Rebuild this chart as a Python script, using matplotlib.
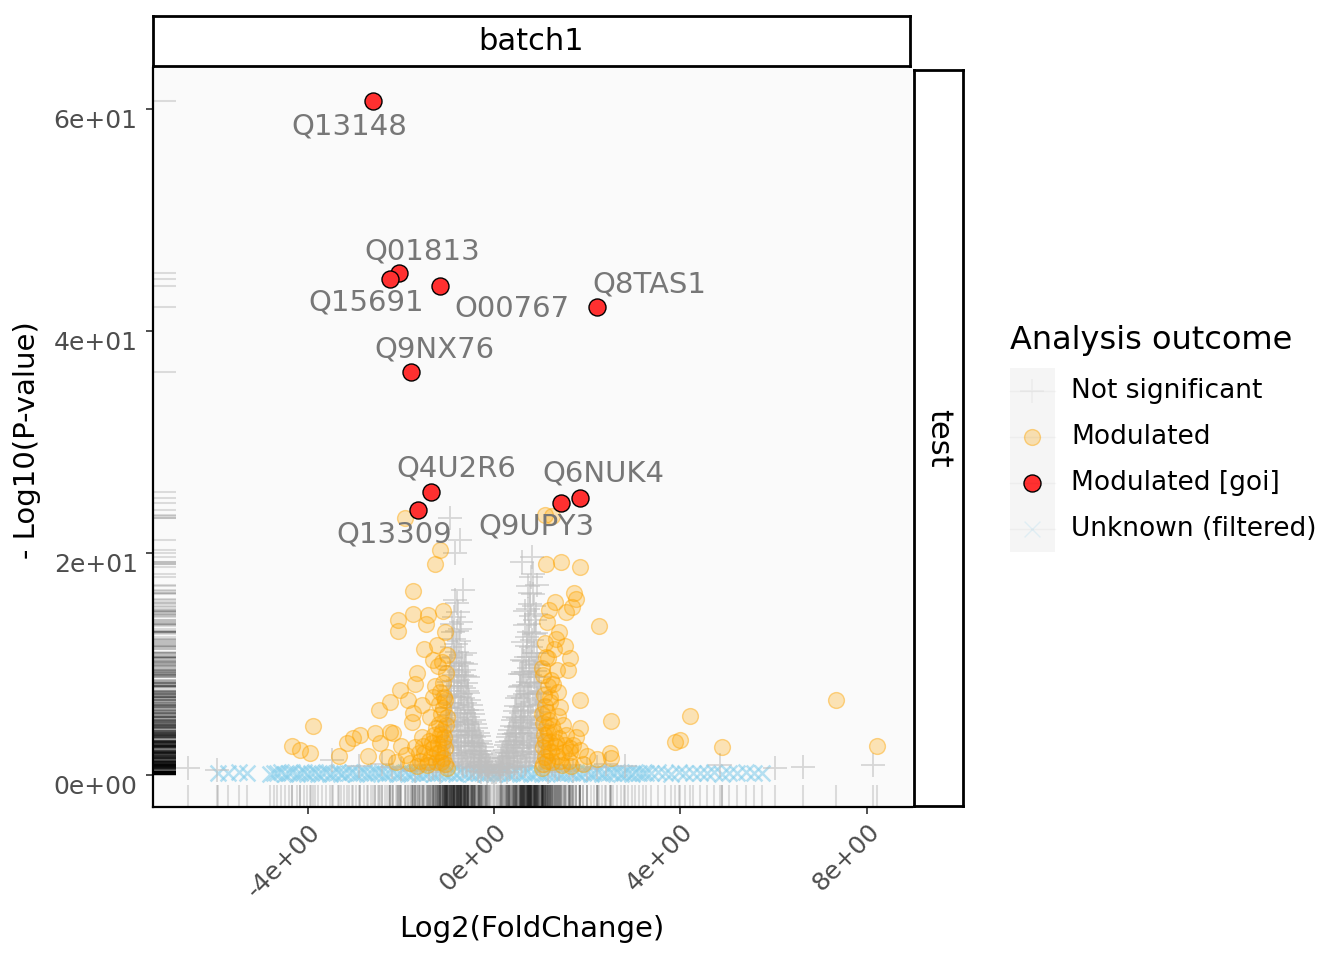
import numpy as np
import matplotlib.pyplot as plt
from matplotlib.patches import Rectangle

# ---- data (log2 fold change, -log10 p) ----
# Not significant
ns_pts = [
    (-0.05, 0.3), (-0.10, 0.8), (-0.15, 1.2), (-0.20, 1.8), (-0.25, 2.5), (-0.30, 3.1),
    (-0.35, 3.8), (-0.40, 4.6), (-0.45, 5.5), (-0.50, 6.3), (-0.55, 7.4), (-0.60, 8.3),
    (-0.65, 9.5), (-0.70, 10.8), (-0.75, 12.1), (-0.80, 13.0), (-0.85, 14.2), (-0.90, 11.5),
    (-0.95, 9.8), (-1.00, 7.2), (-0.20, 0.5), (-0.30, 1.0), (-0.40, 1.5), (-0.50, 2.2),
    (-0.60, 3.0), (-0.70, 4.0), (-0.80, 5.1), (-0.90, 6.0), (-1.00, 4.3), (-0.35, 0.4),
    (-0.45, 2.9), (-0.55, 4.1), (-0.65, 5.6), (-0.75, 7.0), (-0.85, 8.5), (-0.95, 6.5),
    (-0.60, 1.2), (-0.70, 2.0), (-0.80, 2.7), (-0.90, 3.5), (-1.05, 2.0), (-0.50, 0.6),
    (-0.65, 7.8), (-0.75, 9.3), (-0.85, 10.6), (-0.72, 6.1), (-0.82, 11.8), (-0.92, 8.0),
    (-0.62, 4.8), (-0.78, 3.6), (-0.88, 1.5), (-0.98, 1.0), (-0.40, 2.6), (-0.58, 5.9),
    (-0.94, 23.2), (-0.73, 21.2), (-0.84, 20.0), (-0.67, 16.7), (-0.80, 15.5), (-0.70, 13.8),
    (-0.88, 12.9), (-0.62, 11.0),
    (-0.12, 0.4), (-0.18, 0.9), (-0.22, 1.3), (-0.27, 1.9), (-0.32, 2.2), (-0.37, 2.9),
    (-0.42, 3.4), (-0.47, 4.0), (-0.52, 4.8), (-0.57, 5.2), (-0.62, 6.5), (-0.67, 6.9),
    (-0.72, 8.0), (-0.77, 8.6), (-0.82, 9.8), (-0.87, 9.0), (-0.92, 7.1), (-0.97, 5.4),
    (-1.02, 3.2), (-0.25, 0.8), (-0.33, 1.6), (-0.43, 2.1), (-0.53, 3.3), (-0.63, 4.0),
    (-0.73, 5.0), (-0.83, 6.3), (-0.93, 4.8), (-1.03, 1.4), (-0.45, 1.0), (-0.55, 1.8),
    (-0.65, 2.6), (-0.75, 3.1), (-0.85, 4.0), (-0.95, 2.4), (-0.68, 1.1), (-0.78, 1.7),
    (-0.88, 2.5), (-0.98, 3.4), (-0.58, 0.9), (-0.42, 0.7), (-0.28, 0.3), (-0.15, 0.2),
    (-0.70, 7.3), (-0.80, 8.0), (-0.90, 9.5), (-0.76, 10.2), (-0.86, 12.3), (-0.79, 11.1),
    (-0.68, 9.0), (-0.74, 13.2), (-0.90, 13.6), (-0.83, 15.8), (-0.77, 14.7), (-0.60, 10.0),
    (-0.56, 8.8),
    (-0.08, 0.5), (-0.13, 0.7), (-0.17, 1.5), (-0.23, 2.2), (-0.28, 2.8), (-0.33, 3.5),
    (-0.38, 4.2), (-0.43, 5.0), (-0.48, 5.9), (-0.53, 6.8), (-0.58, 7.6), (-0.63, 8.9),
    (-0.68, 10.1), (-0.93, 10.5), (-0.97, 8.4), (-1.01, 6.0), (-1.04, 4.9), (-1.06, 3.0),
    (-1.08, 1.2), (-0.27, 1.2), (-0.37, 1.9), (-0.47, 2.6), (-0.57, 3.6), (-0.67, 4.5),
    (-0.77, 5.6), (-0.87, 7.0), (-0.97, 7.6), (-0.32, 0.7), (-0.52, 1.4), (-0.62, 2.3),
    (-0.72, 2.9), (-0.82, 3.9), (-0.92, 4.4), (-1.02, 2.6), (-0.76, 1.3), (-0.86, 2.0),
    (-0.96, 1.8), (-0.66, 0.8), (-0.48, 3.6), (-0.58, 4.6),
    (0.05, 0.3), (0.10, 0.9), (0.15, 1.4), (0.20, 2.0), (0.25, 2.7), (0.30, 3.4),
    (0.35, 4.1), (0.40, 5.0), (0.45, 5.8), (0.50, 6.9), (0.55, 7.9), (0.60, 9.1),
    (0.65, 10.3), (0.70, 11.6), (0.75, 12.9), (0.80, 14.3), (0.85, 15.2), (0.90, 12.8),
    (0.95, 10.0), (1.00, 7.5), (0.20, 0.6), (0.30, 1.1), (0.40, 1.7), (0.50, 2.4),
    (0.60, 3.2), (0.70, 4.2), (0.80, 5.3), (0.90, 6.2), (1.00, 4.5), (0.35, 0.5),
    (0.45, 3.1), (0.55, 4.4), (0.65, 5.8), (0.75, 7.3), (0.85, 8.8), (0.95, 6.8),
    (0.60, 1.3), (0.70, 2.1), (0.80, 2.9), (0.90, 3.7), (1.05, 2.2), (0.50, 0.7),
    (0.65, 8.1), (0.75, 9.6), (0.85, 11.0), (0.72, 6.4), (0.82, 12.2), (0.92, 8.3),
    (0.62, 5.0), (0.78, 3.8), (0.88, 1.6), (0.98, 1.1), (0.40, 2.8), (0.58, 6.1),
    (0.60, 19.2), (0.92, 17.1), (0.77, 16.4), (0.84, 18.1), (0.72, 15.0), (0.88, 14.0),
    (0.66, 13.5), (0.80, 17.8),
    (0.12, 0.4), (0.18, 1.0), (0.22, 1.5), (0.27, 2.1), (0.32, 2.5), (0.37, 3.1),
    (0.42, 3.7), (0.47, 4.3), (0.52, 5.1), (0.57, 5.6), (0.62, 6.9), (0.67, 7.3),
    (0.72, 8.4), (0.77, 9.0), (0.82, 10.2), (0.87, 9.4), (0.92, 7.4), (0.97, 5.7),
    (1.02, 3.3), (0.25, 0.9), (0.33, 1.7), (0.43, 2.2), (0.53, 3.5), (0.63, 4.2),
    (0.73, 5.2), (0.83, 6.6), (0.93, 5.0), (1.03, 1.5), (0.45, 1.1), (0.55, 1.9),
    (0.65, 2.7), (0.75, 3.3), (0.85, 4.2), (0.95, 2.5), (0.68, 1.2), (0.78, 1.8),
    (0.88, 2.6), (0.98, 3.5), (0.58, 0.9), (0.42, 0.7), (0.28, 0.3), (0.15, 0.2),
    (0.70, 7.6), (0.80, 8.3), (0.90, 9.9), (0.76, 10.6), (0.86, 12.7), (0.79, 11.5),
    (0.68, 9.3), (0.74, 13.6), (0.90, 14.5), (0.83, 16.3), (0.77, 15.4), (0.60, 10.4),
    (0.56, 9.1), (0.70, 12.4), (0.62, 12.0), (0.66, 14.8), (0.73, 17.0), (0.81, 19.6),
    (0.08, 0.5), (0.13, 0.7), (0.17, 1.6), (0.23, 2.3), (0.28, 3.0), (0.33, 3.7),
    (0.38, 4.4), (0.43, 5.2), (0.48, 6.2), (0.53, 7.1), (0.58, 8.0), (0.63, 9.3),
    (0.68, 10.6), (0.93, 11.0), (0.97, 8.8), (1.01, 6.3), (1.04, 5.1), (1.06, 3.1),
    (1.08, 1.3), (0.27, 1.3), (0.37, 2.0), (0.47, 2.7), (0.57, 3.8), (0.67, 4.7),
    (0.77, 5.9), (0.87, 7.3), (0.97, 7.9), (0.32, 0.7), (0.52, 1.5), (0.62, 2.4),
    (0.72, 3.0), (0.82, 4.1), (0.92, 4.6), (1.02, 2.7), (0.76, 1.4), (0.86, 2.1),
    (0.96, 1.9), (0.66, 0.8), (0.48, 3.8), (0.58, 4.8),
    (-1.30, 0.6), (-1.60, 0.9), (-2.00, 0.5), (-2.40, 1.0), (-1.20, 1.4), (-2.90, 0.8),
    (1.30, 0.6), (1.60, 0.9), (2.00, 0.5), (2.40, 1.0), (1.20, 1.4), (2.80, 0.8),
    (-1.15, 0.3), (-1.40, 0.5), (-1.70, 0.4), (-2.20, 0.7), (-1.25, 0.9),
    (1.15, 0.3), (1.40, 0.5), (1.70, 0.4), (2.20, 0.7), (1.25, 0.9),
    (-6.57, 0.6), (-5.94, 0.45), (-3.48, 1.35), (4.85, 0.9), (6.03, 0.6), (6.63, 0.7),
    (8.13, 0.9), (0.00, 0.0),
]

# Modulated
mod_pts = [
    (-1.16, 20.3), (-1.27, 19.0), (-1.91, 23.2), (-1.74, 16.6), (-2.06, 14.0), (-2.06, 13.0),
    (-1.74, 14.5), (-1.42, 14.4), (-1.46, 13.6), (-1.09, 14.8), (-1.05, 12.9), (-1.50, 11.4),
    (-1.22, 11.7), (-1.01, 10.8), (-1.31, 10.4), (-1.65, 9.2), (-1.70, 8.2), (-2.02, 7.7),
    (-1.85, 6.8), (-2.23, 6.6), (-2.47, 5.9), (-1.55, 6.3), (-1.31, 7.0), (-1.09, 8.3),
    (-1.05, 6.8), (-3.88, 4.4), (-4.33, 2.6), (-4.16, 2.3), (-3.95, 2.0), (-3.33, 1.7),
    (-3.15, 2.9), (-3.03, 3.3), (-2.88, 3.6), (-2.55, 3.8), (-2.70, 1.7), (-2.45, 2.9),
    (-2.23, 3.9), (-2.17, 3.8), (-1.76, 4.8), (-1.74, 5.6),
    (-1.05, 1.0), (-1.10, 1.5), (-1.15, 2.1), (-1.20, 2.8), (-1.08, 3.4), (-1.12, 4.0),
    (-1.25, 1.2), (-1.30, 2.4), (-1.35, 1.6), (-1.40, 3.1), (-1.45, 0.9), (-1.50, 2.0),
    (-1.60, 1.3), (-1.70, 2.5), (-1.80, 1.1), (-1.90, 1.8), (-2.10, 1.2), (-2.30, 1.6),
    (-1.02, 5.2), (-1.18, 4.6), (-1.28, 3.6), (-1.55, 3.4), (-1.65, 0.8), (-2.00, 2.6),
    (-1.10, 6.0), (-1.15, 7.5), (-1.03, 9.2), (-1.20, 9.8), (-1.38, 5.2),
    (-1.02, 0.6), (-1.06, 2.4), (-1.09, 3.0), (-1.13, 1.2), (-1.16, 3.6), (-1.22, 2.0),
    (-1.04, 4.5), (-1.14, 5.5), (-1.24, 4.2), (-1.33, 2.9), (-1.42, 1.2), (-1.52, 2.6),
    (-1.62, 2.0), (-1.07, 7.0), (-1.19, 6.4), (-1.27, 8.0), (-1.11, 10.2),
    (1.09, 23.4), (1.24, 23.3), (1.12, 19.0), (1.44, 19.2), (1.85, 18.7), (1.72, 16.4),
    (1.76, 15.9), (1.31, 15.6), (1.18, 14.9), (1.54, 14.7), (1.67, 15.1), (1.14, 13.8),
    (2.25, 13.4), (1.39, 12.9), (1.33, 12.3), (1.09, 11.9), (1.52, 11.6), (1.29, 11.4),
    (1.63, 10.5), (1.16, 10.5), (1.59, 9.5), (1.35, 9.5), (1.05, 9.0), (1.37, 7.5),
    (1.85, 6.8), (1.20, 7.0), (1.42, 6.1), (2.51, 4.9), (1.48, 4.5), (1.85, 4.2),
    (1.76, 3.4), (1.63, 2.4), (1.85, 2.3), (2.00, 1.7), (2.49, 2.0), (2.51, 1.5),
    (1.05, 1.0), (1.10, 1.6), (1.15, 2.3), (1.20, 3.0), (1.08, 3.6), (1.12, 4.3),
    (1.25, 1.2), (1.30, 2.6), (1.35, 1.7), (1.40, 3.3), (1.45, 0.9), (1.50, 2.1),
    (1.60, 1.3), (1.70, 2.7), (1.02, 5.5), (1.18, 5.0), (1.28, 3.9), (1.55, 3.6),
    (1.65, 0.8), (1.10, 6.2), (1.15, 8.0), (1.03, 9.6), (1.22, 8.6), (1.38, 5.3),
    (1.90, 1.0), (2.20, 1.4),
    (1.02, 0.6), (1.06, 2.5), (1.09, 3.1), (1.13, 1.3), (1.16, 3.8), (1.22, 2.1),
    (1.04, 4.7), (1.14, 5.7), (1.24, 4.4), (1.33, 3.0), (1.42, 1.3), (1.52, 2.7),
    (1.62, 2.1), (1.07, 7.2), (1.19, 6.6), (1.27, 8.2), (1.11, 10.6),
    (7.34, 6.8), (4.21, 5.3), (3.88, 3.0), (3.99, 3.2), (4.89, 2.5), (8.22, 2.6),
]

# Modulated [goi]
goi_ids = ["Q13148", "Q01813", "Q15691", "O00767", "Q8TAS1",
           "Q9NX76", "Q4U2R6", "Q13309", "Q9UPY3", "Q6NUK4"]
goi_fc = [-2.60, -2.04, -2.23, -1.16, 2.21, -1.78, -1.35, -1.63, 1.44, 1.85]
goi_p = [60.7, 45.2, 44.7, 44.1, 42.2, 36.3, 25.5, 23.9, 24.5, 25.0]
# where the repelled labels ended up, offset from each point (points)
lab_dx = [-17, 17, -17, 52, 38, 17, 18, -17, -18, 17]
lab_dy = [-18, 16, -17, -17, 16, 16, 17, -18, -17, 17]

# Unknown (filtered): (fold change, -log10 p) pairs
unk_pts = [
    (-5.92, 0.20), (-5.71, 0.15), (-5.48, 0.25), (-5.30, 0.18),
    (-4.80, 0.10), (-4.72, 0.22), (-4.65, 0.14), (-4.57, 0.28), (-4.49, 0.08), (-4.40, 0.19),
    (-4.33, 0.25), (-4.24, 0.12), (-4.17, 0.20), (-4.08, 0.30), (-4.01, 0.09), (-3.93, 0.17),
    (-3.84, 0.24), (-3.77, 0.11), (-3.69, 0.21), (-3.60, 0.27), (-3.53, 0.13), (-3.45, 0.18),
    (-3.36, 0.26), (-3.29, 0.10), (-3.21, 0.22), (-3.12, 0.15), (-3.05, 0.29), (-2.97, 0.12),
    (-2.88, 0.20), (-2.80, 0.25), (-2.73, 0.09), (-2.65, 0.18), (-2.56, 0.23), (-2.49, 0.14),
    (-2.40, 0.28), (-2.33, 0.11), (-2.25, 0.19), (-2.16, 0.24), (-2.09, 0.13), (-2.01, 0.21),
    (-1.92, 0.27), (-1.85, 0.10), (-1.76, 0.16), (-1.69, 0.25), (-1.61, 0.12), (-1.52, 0.22),
    (-1.45, 0.18), (-1.37, 0.29), (-1.28, 0.09), (-1.21, 0.20), (-1.12, 0.26), (-1.05, 0.14),
    (-0.97, 0.19), (-0.88, 0.23), (-0.81, 0.11), (-0.73, 0.28), (-0.64, 0.15), (-0.57, 0.21),
    (-0.48, 0.10), (-0.41, 0.24), (-0.33, 0.17), (-0.24, 0.27), (-0.17, 0.12), (-0.09, 0.20),
    (0.00, 0.05), (0.07, 0.22), (0.15, 0.14), (0.24, 0.26), (0.31, 0.10), (0.39, 0.19),
    (0.48, 0.25), (0.55, 0.13), (0.64, 0.21), (0.71, 0.28), (0.79, 0.09), (0.88, 0.18),
    (0.95, 0.24), (1.03, 0.12), (1.12, 0.20), (1.19, 0.27), (1.27, 0.15), (1.36, 0.22),
    (1.43, 0.11), (1.51, 0.19), (1.60, 0.26), (1.67, 0.14), (1.76, 0.23), (1.83, 0.10),
    (1.91, 0.21), (2.00, 0.28), (2.07, 0.13), (2.15, 0.18), (2.24, 0.25), (2.31, 0.09),
    (2.39, 0.20), (2.48, 0.24), (2.55, 0.16), (2.63, 0.27), (2.72, 0.12), (2.79, 0.22),
    (2.87, 0.19), (2.96, 0.11), (3.03, 0.25), (3.11, 0.15), (3.20, 0.21), (3.27, 0.18),
    (3.36, 0.14), (3.52, 0.23), (3.67, 0.20), (3.80, 0.12), (3.96, 0.26), (4.10, 0.17),
    (4.28, 0.22), (4.41, 0.15), (4.57, 0.19), (4.73, 0.24), (4.90, 0.13), (5.05, 0.20),
    (5.22, 0.18), (5.40, 0.25), (5.58, 0.16), (5.76, 0.21),
]

x_ticks = [-4, 0, 4, 8]
y_ticks = [0, 20, 40, 60]
outcomes = ["Not significant", "Modulated", "Modulated [goi]", "Unknown (filtered)"]

ns_fc, ns_p = np.array(ns_pts).T
mod_fc, mod_p = np.array(mod_pts).T
unk_fc, unk_p = np.array(unk_pts).T

styles = {
    "Not significant": dict(marker="+", s=300, color="#BEBEBE", alpha=0.6, linewidths=1.3),
    "Modulated": dict(marker="o", s=130, facecolor=(1, 0.647, 0, 0.28),
                      edgecolor=(1, 0.647, 0, 0.45), linewidths=1.0),
    "Modulated [goi]": dict(marker="o", s=150, facecolor="#FF3030",
                            edgecolor="black", linewidths=1.0),
    "Unknown (filtered)": dict(marker="x", s=130, color="#87CEEB", alpha=0.6, linewidths=1.8),
}

fig = plt.figure(figsize=(13.44, 9.6), dpi=100)
W, H = 1344, 960
ax = fig.add_axes([153 / W, 1 - 807 / H, (912 - 153) / W, (807 - 68) / H])
ax.set_facecolor("#FAFAFA")

ax.scatter(unk_fc, unk_p, zorder=2, **styles["Unknown (filtered)"])
ax.scatter(ns_fc, ns_p, zorder=3, **styles["Not significant"])
ax.scatter(mod_fc, mod_p, zorder=4, **styles["Modulated"])
ax.scatter(goi_fc, goi_p, zorder=5, **styles["Modulated [goi]"])

for name, x, y, dx, dy in zip(goi_ids, goi_fc, goi_p, lab_dx, lab_dy):
    ax.annotate(name, (x, y), xytext=(dx, dy), textcoords="offset points",
                ha="center", va="center", fontsize=21, color="#777777", zorder=6)

# rugs on both axes
all_x = np.concatenate([unk_fc, ns_fc, mod_fc, goi_fc])
all_y = np.concatenate([unk_p, ns_p, mod_p, goi_p])
ax.vlines(all_x, 0, 0.03, transform=ax.get_xaxis_transform(), colors="black",
          alpha=0.12, linewidth=1.5, zorder=1)
ax.hlines(all_y, 0, 0.03, transform=ax.get_yaxis_transform(), colors="black",
          alpha=0.12, linewidth=1.5, zorder=1)

ax.set_xlim(-7.32, 8.97)
ax.set_ylim(-2.88, 63.7)
ax.set_xticks(x_ticks)
ax.set_xticklabels(["%.0e" % v for v in x_ticks], rotation=45, ha="right", va="top",
                   rotation_mode="anchor")
ax.set_yticks(y_ticks)
ax.set_yticklabels(["%.0e" % v for v in y_ticks], va="top")
ax.tick_params(axis="both", labelsize=18, labelcolor="#4D4D4D", color="#333333",
               length=5, width=1.2)
ax.tick_params(axis="x", pad=4)
ax.tick_params(axis="y", pad=6)
for side in ["top", "right"]:
    ax.spines[side].set_visible(False)
for side in ["left", "bottom"]:
    ax.spines[side].set_linewidth(1.6)

fig.text(532 / W, 1 - 929 / H, "Log2(FoldChange)", ha="center", va="center", fontsize=21)
fig.text(27 / W, 1 - 440 / H, "- Log10(P-value)", ha="center", va="center",
         rotation=90, fontsize=21)

# facet strips
top = fig.add_axes([153 / W, 1 - 66 / H, (910 - 153) / W, 50 / H])
right = fig.add_axes([914 / W, 1 - 806 / H, 49 / W, (806 - 70) / H])
for s in (top, right):
    s.set_xticks([])
    s.set_yticks([])
    s.set_facecolor("white")
    for sp in s.spines.values():
        sp.set_linewidth(2.0)
top.text(0.5, 0.5, "batch1", ha="center", va="center", fontsize=22, transform=top.transAxes)
right.text(0.5, 0.5, "test", ha="center", va="center", fontsize=22, rotation=-90,
           transform=right.transAxes)

# legend
lax = fig.add_axes([0, 0, 1, 1], facecolor="none")
lax.set_xlim(0, W)
lax.set_ylim(H, 0)
lax.axis("off")
lax.text(1010, 340, "Analysis outcome", ha="left", va="center", fontsize=23)
lax.add_patch(Rectangle((1010, 368), 45, 184, facecolor="#F5F5F5", edgecolor="none"))
key_style = dict(styles)
key_style["Not significant"] = dict(styles["Not significant"], alpha=0.15)
key_style["Unknown (filtered)"] = dict(styles["Unknown (filtered)"], alpha=0.2, linewidths=1.0)
for i, name in enumerate(outcomes):
    yc = 391 + 46 * i
    lax.plot([1010, 1055], [yc, yc], color="black", alpha=0.03, lw=1)
    lax.scatter([1032], [yc], **key_style[name])
    lax.text(1071, yc, name, ha="left", va="center", fontsize=19)

fig.savefig("out.png", dpi=100)
